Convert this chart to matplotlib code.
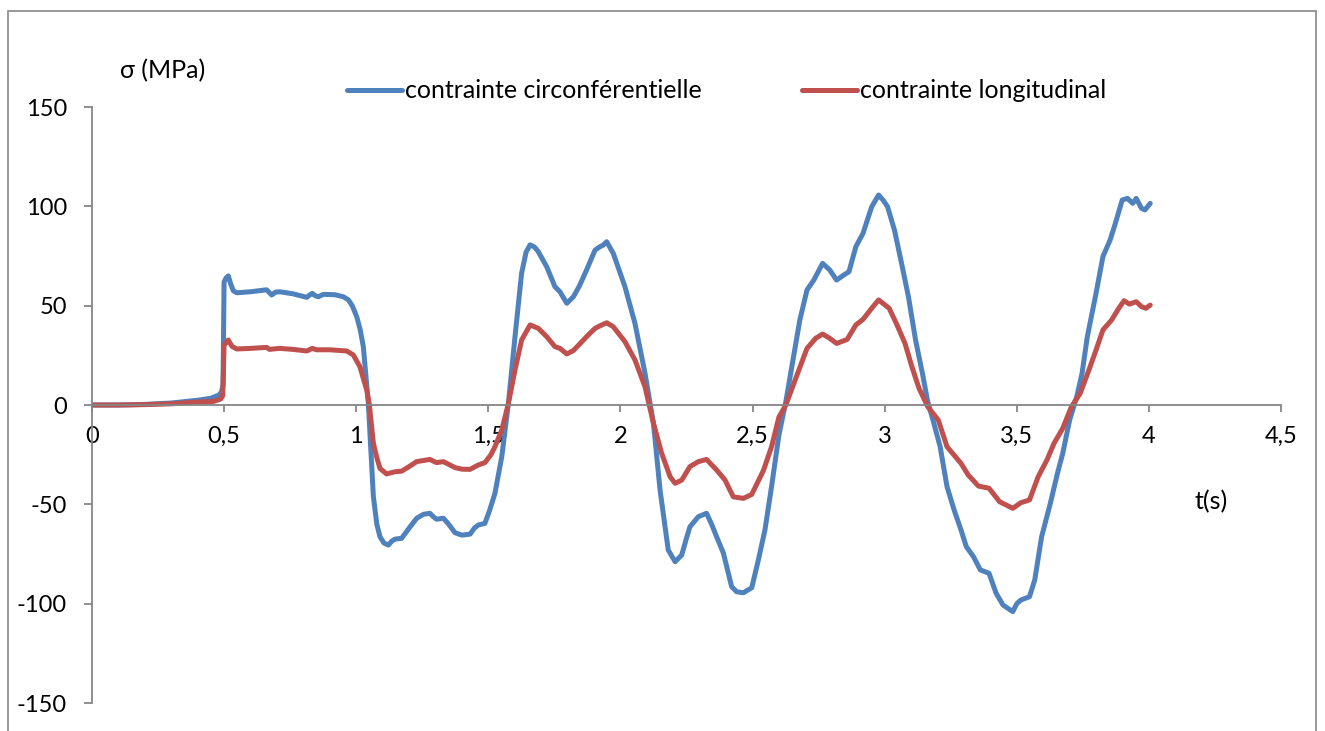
import numpy as np
import matplotlib
matplotlib.use('Agg')
import matplotlib.pyplot as plt
import matplotlib.patches as patches
from matplotlib.ticker import FuncFormatter

plt.rcParams['font.family'] = ['Lato', 'DejaVu Sans']
plt.rcParams['axes.unicode_minus'] = False

# contrainte circonferentielle (blue)
t_circ = [0.00, 0.10, 0.20, 0.30, 0.40, 0.45, 0.48, 0.49, 0.496, 0.500, 0.508, 0.516, 0.525, 0.535,
          0.548, 0.60, 0.661, 0.672, 0.68, 0.695, 0.711, 0.76, 0.813, 0.825, 0.834, 0.845, 0.857,
          0.876, 0.92, 0.951, 0.97, 0.985, 1.002, 1.015, 1.027, 1.046, 1.065, 1.078, 1.09, 1.105,
          1.122, 1.135, 1.147, 1.172, 1.20, 1.229, 1.255, 1.279, 1.29, 1.304, 1.33, 1.35, 1.374,
          1.40, 1.431, 1.447, 1.462, 1.487, 1.505, 1.525, 1.551, 1.576, 1.601, 1.626, 1.643, 1.658,
          1.675, 1.689, 1.721, 1.752, 1.771, 1.797, 1.822, 1.845, 1.872, 1.904, 1.923, 1.935, 1.948,
          1.973, 2.017, 2.055, 2.093, 2.125, 2.15, 2.181, 2.207, 2.232, 2.25, 2.263, 2.295, 2.326,
          2.345, 2.364, 2.39, 2.421, 2.44, 2.465, 2.497, 2.522, 2.547, 2.572, 2.60, 2.626, 2.653,
          2.679, 2.706, 2.732, 2.765, 2.792, 2.818, 2.845, 2.865, 2.891, 2.918, 2.951, 2.977, 2.995,
          3.011, 3.037, 3.064, 3.09, 3.117, 3.143, 3.163, 3.183, 3.21, 3.236, 3.263, 3.289, 3.309,
          3.336, 3.362, 3.395, 3.422, 3.448, 3.485, 3.50, 3.515, 3.548, 3.568, 3.594, 3.627, 3.654,
          3.674, 3.70, 3.727, 3.747, 3.767, 3.80, 3.826, 3.853, 3.873, 3.899, 3.919, 3.939, 3.952,
          3.972, 3.985, 4.005]
sig_circ = [0, 0.0, 0.3, 1.0, 2.4, 3.4, 5, 6.5, 10, 62, 64, 65, 61, 57.5,
            56.5, 57, 58, 56.5, 55.4, 56.8, 57, 56, 54.2, 55.5, 56.2, 55, 54.5,
            55.7, 55.5, 54.5, 53, 50, 44.5, 38, 29.4, 0.8, -46, -60, -66.3, -69.5,
            -70.5, -68.5, -67.5, -67.1, -62, -57, -55, -54.5, -56, -57.5, -57, -60, -64.3,
            -65.5, -65, -62, -60.4, -59.6, -53, -44.5, -26, 0.8, 34.4, 66.3, 77, 80.6,
            79.5, 77.2, 69.6, 59.6, 57, 51.2, 54.5, 60, 68, 78, 79.7, 80.5, 82.2,
            76.3, 59.6, 41.1, 16, -9.2, -42.8, -73, -78.9, -75.5, -67, -61.3, -56.2, -54.5,
            -60, -66.3, -74.7, -91.5, -94, -94.5, -92, -78, -62.9, -41, -15, 1.7, 22.7,
            42.8, 57.9, 62.9, 71.3, 68, 62.9, 65.4, 67.1, 79.7, 86.4, 99.8, 105.7, 103,
            99.8, 88.1, 71.3, 54.5, 32.7, 15.9, 1.7, -7.6, -21, -41.1, -52.9, -62.9, -71.3,
            -76.3, -83, -84.7, -94.8, -100.7, -104, -100, -98.2, -96.5, -88.1, -66.3, -49.5, -34.4,
            -24.3, -7.6, 4.2, 15.9, 34.4, 56.2, 74.7, 83, 91.4, 103.2, 104, 101.5, 104,
            99, 98.2, 101.5]

# contrainte longitudinal (red)
t_long = [0.00, 0.10, 0.20, 0.30, 0.40, 0.46, 0.487, 0.495, 0.500, 0.508, 0.516, 0.53, 0.548, 0.60,
          0.661, 0.672, 0.685, 0.711, 0.76, 0.813, 0.834, 0.85, 0.90, 0.964, 0.989, 1.014, 1.04,
          1.05, 1.065, 1.077, 1.09, 1.115, 1.147, 1.172, 1.20, 1.229, 1.279, 1.304, 1.33, 1.374,
          1.40, 1.431, 1.462, 1.487, 1.51, 1.525, 1.551, 1.576, 1.601, 1.626, 1.658, 1.689, 1.721,
          1.752, 1.771, 1.797, 1.822, 1.872, 1.904, 1.923, 1.948, 1.973, 2.017, 2.055, 2.093,
          2.125, 2.156, 2.188, 2.207, 2.232, 2.263, 2.295, 2.326, 2.364, 2.396, 2.427, 2.465,
          2.497, 2.541, 2.572, 2.60, 2.626, 2.666, 2.706, 2.739, 2.765, 2.792, 2.818, 2.858,
          2.891, 2.918, 2.951, 2.977, 3.017, 3.044, 3.077, 3.103, 3.13, 3.163, 3.203, 3.236,
          3.289, 3.316, 3.355, 3.395, 3.435, 3.485, 3.515, 3.548, 3.581, 3.614, 3.641, 3.674,
          3.707, 3.74, 3.773, 3.80, 3.826, 3.859, 3.886, 3.906, 3.926, 3.952, 3.972, 3.989, 4.005]
sig_long = [0, 0, 0.2, 0.6, 1.5, 1.8, 3, 4.7, 30, 31.5, 32.7, 29.5, 28.2, 28.5,
            29, 28, 28.2, 28.5, 28, 27.2, 28.5, 27.8, 27.8, 27.2, 25.2, 19.3, 7.5,
            0, -19.3, -26, -31.9, -34.7, -33.6, -33.3, -31, -28.5, -27.4, -29, -28.5, -31.5,
            -32.3, -32.4, -30.2, -29, -25, -21, -12.6, 0.8, 17.6, 32.7, 40.3, 38.6, 34.4,
            29.4, 28.5, 25.7, 27.4, 34.4, 38.6, 39.9, 41.4, 39.4, 31.9, 22.7, 9.2,
            -9.2, -24.3, -36.1, -39.4, -37.8, -31, -28.5, -27.4, -32.7, -37.8, -46.2, -47,
            -45, -33, -21, -6, 0, 14.3, 28.5, 33.6, 35.7, 33.6, 31, 33,
            40.3, 43.1, 48.7, 52.9, 48.7, 41.1, 31, 19.3, 8.4, -0.8, -7.6, -21,
            -29.4, -35.2, -40.8, -41.9, -48.7, -52, -49.2, -47.8, -36.1, -27.7, -19.3, -11.7,
            -0.8, 5.9, 17.6, 27.7, 37.8, 42.8, 48.7, 52.5, 50.8, 52, 49.5, 48.7, 50.3]

x_ticks = [0, 0.5, 1, 1.5, 2, 2.5, 3, 3.5, 4, 4.5]
y_ticks = [-150, -100, -50, 0, 50, 100, 150]

blue = '#4F81BD'
red = '#C0504D'
grey = '#868686'
fs = 17    # tick labels
fs2 = 18   # legend and axis titles

fig = plt.figure(figsize=(13.25, 7.31), dpi=100)
ax = plt.axes([0.0694, 0.0383, 0.8974, 0.8153])

ax.plot(t_circ, sig_circ, color=blue, lw=3.6, solid_capstyle='round', solid_joinstyle='round',
        label='contrainte circonférentielle')
ax.plot(t_long, sig_long, color=red, lw=3.6, solid_capstyle='round', solid_joinstyle='round',
        label='contrainte longitudinal')

ax.set_xlim(0, 4.5)
ax.set_ylim(-150, 150)
ax.set_xticks(x_ticks)
ax.set_yticks(y_ticks)
ax.xaxis.set_major_formatter(FuncFormatter(lambda v, p: ('%g' % v).replace('.', ',')))

# excel style axes: x axis through zero
ax.spines['top'].set_visible(False)
ax.spines['right'].set_visible(False)
ax.spines['bottom'].set_position(('data', 0))
for s in ['left', 'bottom']:
    ax.spines[s].set_color(grey)
    ax.spines[s].set_linewidth(1.3)
ax.tick_params(axis='y', direction='out', length=6, width=1.3, color=grey, labelsize=fs, pad=12)
ax.tick_params(axis='x', direction='out', length=5, width=1.3, color=grey, labelsize=fs, pad=10)

ax.legend(loc='center', bbox_to_anchor=(0.534, 1.027), ncol=2, frameon=False, fontsize=fs2,
          handlelength=2.2, handletextpad=0.12, columnspacing=4.0, borderpad=0, borderaxespad=0)

fig.text(120 / 1325, 1 - 71 / 731, 'σ (MPa)', fontsize=fs2, va='center', ha='left')
fig.text(1211 / 1325, 1 - 502 / 731, 't(s)', fontsize=fs2, va='center', ha='center')

# chart border
fig.patches.append(patches.Rectangle((8 / 1325, -0.02), (1316 - 8) / 1325, 1.02 - 11 / 731,
                                     transform=fig.transFigure, fill=False, edgecolor=grey, lw=1.2))

fig.savefig('out.png', dpi=100)
